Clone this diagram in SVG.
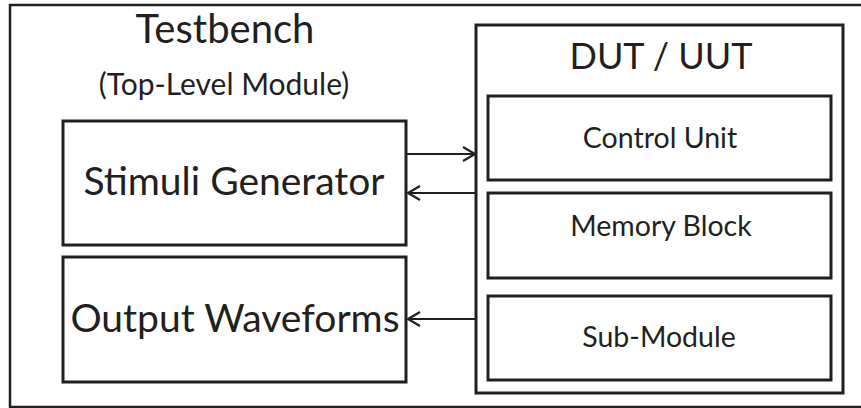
<svg xmlns="http://www.w3.org/2000/svg" width="861" height="408" viewBox="0 0 861 408">
<style>
  .box { fill: #ffffff; stroke: #231f20; stroke-width: 3; }
  .frame { fill: #ffffff; stroke: #231f20; stroke-width: 2.5; }
  .t { font-family: Lato, "Open Sans", "Liberation Sans", sans-serif; fill: #231f20; text-anchor: middle; }
  .title { font-size: 40px; }
  .big { font-size: 39px; }
  .mid { font-size: 36px; }
  .sub { font-size: 30px; }
  .small { font-size: 28.5px; }
  .conn { stroke: #231f20; stroke-width: 2; fill: none; }
</style>
<defs>
  <marker id="arr" markerUnits="userSpaceOnUse" markerWidth="16" markerHeight="18" refX="13" refY="8" orient="auto">
    <path d="M1,1 L13,8 L1,15" fill="none" stroke="#231f20" stroke-width="2.2"/>
  </marker>
</defs>
<rect width="861" height="408" fill="#ffffff"/>
<g id="testbench">
  <rect class="frame" x="10" y="5" width="870" height="402"/>
  <text class="t title" x="225" y="43">Testbench</text>
  <text class="t sub" x="224" y="95">(Top-Level Module)</text>
</g>
<g id="stimuli">
  <rect class="box" x="63" y="121" width="343" height="124"/>
  <text class="t big" x="234" y="195">Stimuli Generator</text>
</g>
<g id="output">
  <rect class="box" x="63" y="257" width="343" height="125"/>
  <text class="t big" x="235" y="332">Output Waveforms</text>
</g>
<g id="dut">
  <rect class="box" x="476" y="25" width="367" height="368"/>
  <text class="t mid" x="661" y="69">DUT / UUT</text>
</g>
<g id="control">
  <rect class="box" x="488" y="96" width="343" height="84"/>
  <text class="t small" x="660" y="148">Control Unit</text>
</g>
<g id="memory">
  <rect class="box" x="488" y="193" width="343" height="85"/>
  <text class="t small" x="661" y="236">Memory Block</text>
</g>
<g id="submodule">
  <rect class="box" x="488" y="296" width="343" height="84"/>
  <text class="t small" x="659" y="347">Sub-Module</text>
</g>
<g id="connectors">
  <line class="conn" x1="406" y1="154" x2="475" y2="154" marker-end="url(#arr)"/>
  <line class="conn" x1="476" y1="193" x2="408" y2="193" marker-end="url(#arr)"/>
  <line class="conn" x1="476" y1="319" x2="408" y2="319" marker-end="url(#arr)"/>
</g>
</svg>
